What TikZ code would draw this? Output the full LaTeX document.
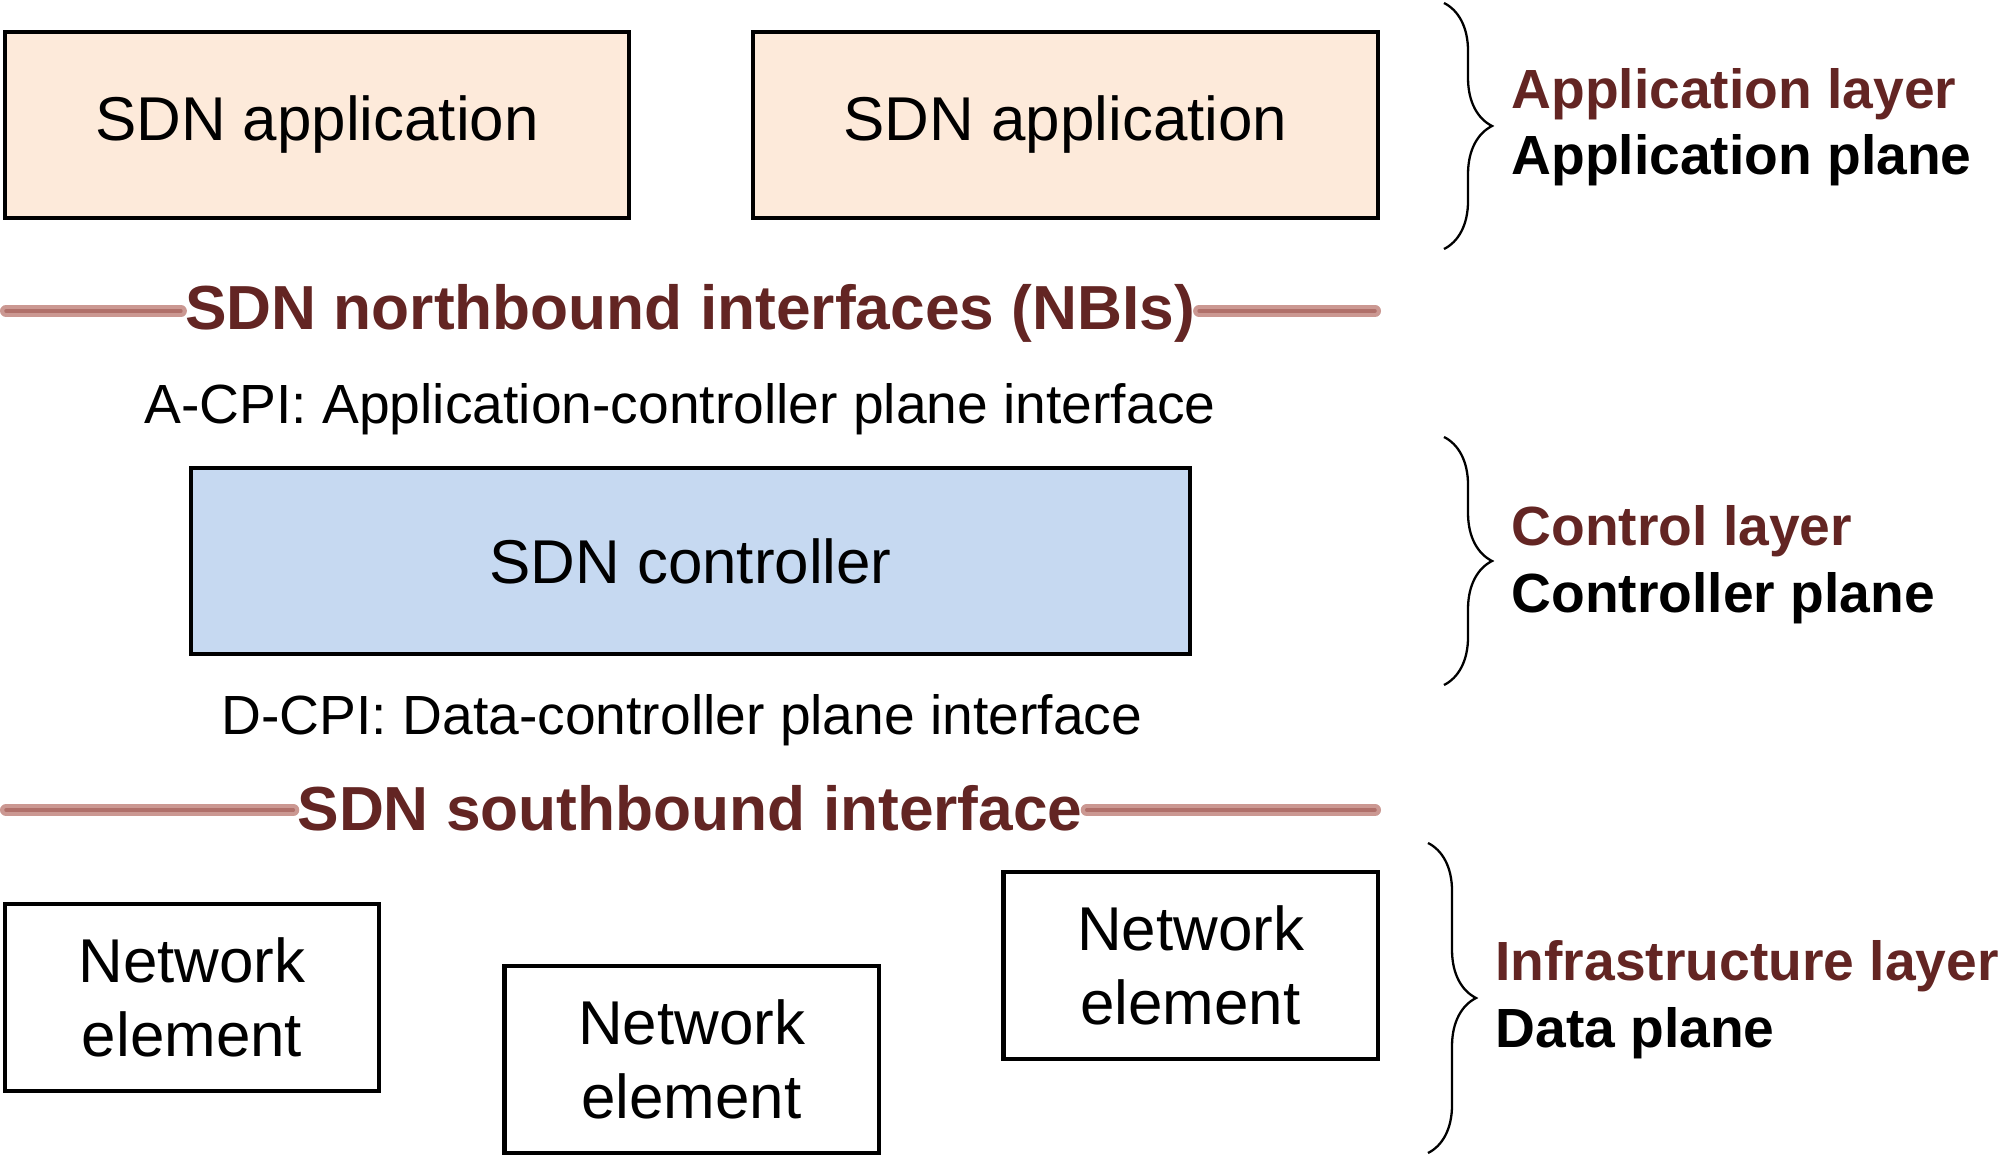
\documentclass[tikz,border=0pt]{standalone}
\usepackage{fontspec}
\setmainfont{Liberation Sans}
\usetikzlibrary{positioning, decorations.pathreplacing}

\definecolor{appfill}{HTML}{FDEADA}
\definecolor{ctrlfill}{HTML}{C6D9F1}
\definecolor{layerred}{HTML}{632523}
\definecolor{ifouter}{HTML}{CB9892}
\definecolor{ifinner}{HTML}{B0706A}

\tikzset{
  boxtext/.style={font=\fontsize{17.6}{21}\selectfont},
  sdnbox/.style={draw, line width=1.2pt, boxtext, align=center, inner sep=0pt},
  appbox/.style={sdnbox, fill=appfill, minimum width=6.24cm, minimum height=1.86cm},
  ctrlbox/.style={sdnbox, fill=ctrlfill, minimum width=9.99cm, minimum height=1.86cm},
  nebox/.style={sdnbox, fill=white, minimum width=3.74cm, minimum height=1.87cm},
  iftext/.style={font=\fontsize{17.7}{21}\selectfont\bfseries, text=layerred, inner xsep=1pt, anchor=base},
  ifline/.style={draw=ifouter, line width=0.12cm, line cap=round,
    postaction={draw=ifinner, line width=0.035cm}},
  cpitext/.style={font=\fontsize{15.7}{19}\selectfont, anchor=base},
  layerlab/.style={font=\fontsize{15.7}{19}\selectfont\bfseries, anchor=base west, text=layerred},
  planelab/.style={font=\fontsize{15.7}{19}\selectfont\bfseries, anchor=base west},
  layerbrace/.style={decorate, decoration={brace, amplitude=0.48cm}, line width=0.65pt}
}

\begin{document}
\begin{tikzpicture}[x=0.01cm, y=-0.01cm]
\useasboundingbox (0,0) rectangle (2000,1155);

% application plane
\node[appbox] (app1) at (317,125) {SDN application};
\node[appbox] (app2) at (1065.5,125) {SDN application};

% northbound interface
\coordinate (nbil) at (6,311);
\coordinate (nbir) at (1375,311);
\node[iftext] (nbi) at (690,330) {SDN northbound interfaces (NBIs)};
\draw[ifline] (nbil) -- (nbil -| nbi.west);
\draw[ifline] (nbi.east |- nbir) -- (nbir);
\node[cpitext] (acpi) at (680,423) {A-CPI: Application-controller plane interface};

% control plane
\node[ctrlbox] (ctrl) at (690.5,561) {SDN controller};
\node[cpitext] (dcpi) at (682,734) {D-CPI: Data-controller plane interface};

% southbound interface
\coordinate (sbil) at (6,810);
\coordinate (sbir) at (1375,810);
\node[iftext] (sbi) at (690,830) {SDN southbound interface};
\draw[ifline] (sbil) -- (sbil -| sbi.west);
\draw[ifline] (sbi.east |- sbir) -- (sbir);

% data plane
\node[nebox] (ne1) at (192,997.5) {Network\\element};
\node[nebox] (ne2) at (691.5,1059.5) {Network\\element};
\node[nebox] (ne3) at (1190.5,965.5) {Network\\element};

% layer braces and labels
\draw[layerbrace] (1444,3) -- (1444,249);
\draw[layerbrace] (1444,437) -- (1444,685);
\draw[layerbrace] (1428,843) -- (1428,1153);
\node[layerlab] (applayer) at (1499,109) {Application layer};
\node[planelab] (appplane) at (1499,175) {Application plane};
\node[layerlab] (ctrllayer) at (1499,545) {Control layer};
\node[planelab] (ctrlplane) at (1499,612) {Controller plane};
\node[layerlab] (infralayer) at (1483,980) {Infrastructure layer};
\node[planelab] (dataplane) at (1483,1047) {Data plane};
\end{tikzpicture}
\end{document}
